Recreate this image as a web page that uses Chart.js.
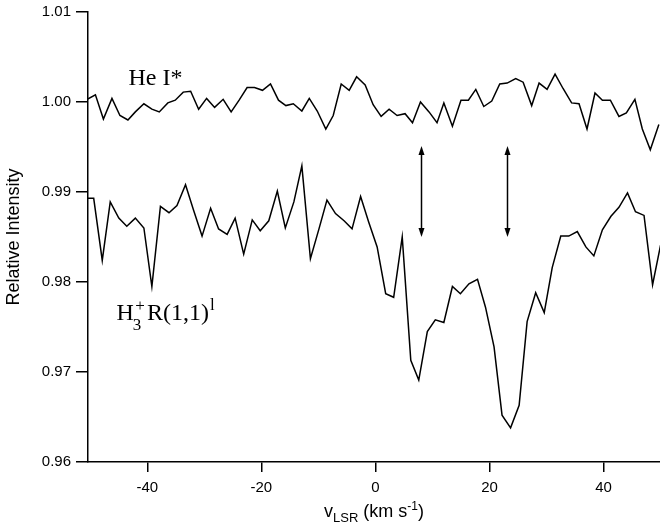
<!DOCTYPE html>
<html><head><meta charset="utf-8">
<script src="https://cdn.jsdelivr.net/npm/chart.js@4/dist/chart.umd.min.js"></script>
<style>html,body{margin:0;padding:0;background:#fff}canvas{display:block}</style>
</head><body>
<canvas id="c" width="660" height="526"></canvas>
<script>
// He I* spectrum (velocity km/s, relative intensity)
const heVelocity = [-50.5,-49.1,-47.7,-46.2,-44.8,-43.4,-42.1,-40.6,-39.2,-37.9,-36.4,-35.1,-33.7,-32.4,-31.0,-29.6,-28.2,-26.7,-25.3,-23.9,-22.5,-21.2,-19.8,-18.4,-17.0,-15.7,-14.4,-12.9,-11.6,-10.2,-8.7,-7.4,-6.0,-4.6,-3.3,-1.8,-0.4,1.0,2.4,3.8,5.2,6.5,7.9,9.4,10.8,12.0,13.5,15.0,16.3,17.6,19.0,20.4,21.8,23.1,24.6,25.9,27.4,28.7,30.1,31.5,32.9,34.4,35.7,37.1,38.5,39.8,41.2,42.7,44.0,45.5,46.8,48.2,49.7];
const heIntensity = [1.0003,1.0008,0.9981,1.0004,0.9985,0.9980,0.9989,0.9998,0.9992,0.9989,0.9999,1.0002,1.0011,1.0012,0.9992,1.0004,0.9994,1.0003,0.9989,1.0002,1.0016,1.0016,1.0013,1.0020,1.0002,0.9996,0.9998,0.9990,1.0004,0.9990,0.9970,0.9985,1.0020,1.0013,1.0028,1.0019,0.9997,0.9984,0.9992,0.9985,0.9987,0.9977,1.0000,0.9989,0.9977,0.9999,0.9973,1.0002,1.0002,1.0014,0.9995,1.0001,1.0020,1.0021,1.0026,1.0022,0.9996,1.0021,1.0014,1.0031,1.0015,0.9999,0.9998,0.9970,1.0010,1.0002,1.0002,0.9984,0.9988,1.0003,0.9970,0.9947,0.9975];
// H3+ R(1,1)^l spectrum
const h3Velocity = [-50.8,-49.4,-47.9,-46.5,-45.0,-43.6,-42.1,-40.6,-39.2,-37.7,-36.2,-34.8,-33.3,-31.9,-30.4,-28.9,-27.5,-26.0,-24.6,-23.1,-21.6,-20.2,-18.7,-17.2,-15.8,-14.3,-12.9,-11.4,-9.9,-8.5,-7.0,-5.5,-4.1,-2.6,-1.2,0.3,1.8,3.2,4.7,6.2,7.6,9.1,10.5,12.0,13.5,14.9,16.4,17.9,19.3,20.8,22.2,23.7,25.2,26.6,28.1,29.6,31.0,32.5,33.9,35.4,36.9,38.3,39.8,41.3,42.7,44.2,45.6,47.1,48.6,50.0];
const h3Intensity = [0.9893,0.9893,0.9824,0.9889,0.9871,0.9862,0.9871,0.9860,0.9795,0.9884,0.9877,0.9885,0.9908,0.9880,0.9851,0.9882,0.9859,0.9853,0.9871,0.9831,0.9869,0.9857,0.9868,0.9901,0.9860,0.9889,0.9929,0.9826,0.9859,0.9891,0.9876,0.9868,0.9859,0.9895,0.9867,0.9839,0.9787,0.9783,0.9850,0.9713,0.9691,0.9745,0.9758,0.9755,0.9795,0.9787,0.9798,0.9803,0.9772,0.9728,0.9652,0.9638,0.9663,0.9756,0.9788,0.9766,0.9816,0.9851,0.9851,0.9856,0.9839,0.9829,0.9858,0.9873,0.9883,0.9899,0.9878,0.9874,0.9797,0.9841];
// axis ticks
const xTickValues = [-40,-20,0,20,40];
const yTickValues = [0.96,0.97,0.98,0.99,1.00,1.01];
// marker arrows (velocity) and their intensity span
const arrowVelocities = [8.0, 23.0];
const arrowSpan = [0.9951, 0.9850];

// annotation placement (style/position config, not data)
const labelConfig = {
  he: {v:-43.3, i:1.0019},
  h3: {v:-45.4, i:0.97575}
};

const toPoints = (xs, ys) => xs.map((v, k) => ({x: v, y: ys[k]}));
const SANS = '"Liberation Sans", Arial, sans-serif';
const SERIF = '"Liberation Serif", "Times New Roman", serif';

const annotations = {
  id: 'annotations',
  afterDraw(chart) {
    const {ctx, scales: {x, y}, chartArea} = chart;
    ctx.save();
    ctx.strokeStyle = '#000';
    ctx.fillStyle = '#000';
    ctx.lineWidth = 1.5;
    // double-headed arrows
    arrowVelocities.forEach(v => {
      const px = Math.round(x.getPixelForValue(v)) + 0.5;
      const t = y.getPixelForValue(arrowSpan[0]);
      const b = y.getPixelForValue(arrowSpan[1]);
      ctx.beginPath(); ctx.moveTo(px, t + 5); ctx.lineTo(px, b - 5); ctx.stroke();
      ctx.beginPath(); ctx.moveTo(px, t); ctx.lineTo(px - 3, t + 9); ctx.lineTo(px + 3, t + 9); ctx.closePath(); ctx.fill();
      ctx.beginPath(); ctx.moveTo(px, b); ctx.lineTo(px - 3, b - 9); ctx.lineTo(px + 3, b - 9); ctx.closePath(); ctx.fill();
    });
    ctx.textAlign = 'left';
    ctx.textBaseline = 'alphabetic';
    // He I* label
    ctx.font = '24px ' + SERIF;
    ctx.fillText('He I*', x.getPixelForValue(labelConfig.he.v), y.getPixelForValue(labelConfig.he.i));
    // H3+ R(1,1)^l label
    let hx = x.getPixelForValue(labelConfig.h3.v);
    const hy = y.getPixelForValue(labelConfig.h3.i);
    ctx.font = '24px ' + SERIF;
    ctx.fillText('H', hx, hy);
    const wH = ctx.measureText('H').width;
    ctx.font = '17px ' + SERIF;
    const x3 = hx + wH - 1;
    ctx.fillText('3', x3, hy + 10);
    const xp = x3 + 2.5;
    ctx.fillText('+', xp, hy - 9);
    const wp = ctx.measureText('+').width;
    let rx = xp + wp + 2;
    ctx.font = '24px ' + SERIF;
    ctx.fillText('R(1,1)', rx, hy);
    rx += ctx.measureText('R(1,1)').width + 1;
    ctx.font = '17px ' + SERIF;
    ctx.fillText('l', rx, hy - 10);

    // x-axis title: v_LSR (km s^-1)
    const parts = [
      {t: 'v', f: '18px ' + SANS, dy: 0},
      {t: 'LSR', f: '13px ' + SANS, dy: 5},
      {t: ' (km s', f: '18px ' + SANS, dy: 0},
      {t: '-1', f: '12px ' + SANS, dy: -7},
      {t: ')', f: '18px ' + SANS, dy: 0}
    ];
    let total = 0;
    parts.forEach(p => { ctx.font = p.f; p.w = ctx.measureText(p.t).width; total += p.w; });
    let tx = (chartArea.left + chartArea.right) / 2 - total / 2;
    const ty = 516.5;
    parts.forEach(p => { ctx.font = p.f; ctx.fillText(p.t, tx, ty + p.dy); tx += p.w; });
    ctx.restore();
  }
};

new Chart(document.getElementById('c'), {
  type: 'line',
  data: {
    datasets: [
      {label: 'He I*', data: toPoints(heVelocity, heIntensity), borderColor: '#000', borderWidth: 1.5, pointRadius: 0, tension: 0, fill: false},
      {label: 'H3+ R(1,1)l', data: toPoints(h3Velocity, h3Intensity), borderColor: '#000', borderWidth: 1.5, pointRadius: 0, tension: 0, fill: false}
    ]
  },
  options: {
    responsive: false,
    animation: false,
    devicePixelRatio: 1,
    layout: {padding: {top: 12, right: 0, left: 0, bottom: 0}},
    plugins: {legend: {display: false}, tooltip: {enabled: false}},
    scales: {
      x: {
        type: 'linear', min: -50.4, max: 49.9,
        afterBuildTicks: s => { s.ticks = xTickValues.map(v => ({value: v})); },
        afterFit: s => { s.height = 64; s.paddingLeft = 0; s.paddingRight = 0; },
        border: {display: true, color: '#000', width: 1.5},
        grid: {display: true, drawOnChartArea: false, drawTicks: true, tickLength: 10, color: '#000', lineWidth: 1.5},
        ticks: {color: '#000', font: {family: SANS, size: 15}, padding: 7, maxRotation: 0, autoSkip: false, callback: v => String(v)}
      },
      y: {
        type: 'linear', min: 0.96, max: 1.01,
        afterBuildTicks: s => { s.ticks = yTickValues.map(v => ({value: v})); },
        afterFit: s => { s.width = 88; s.paddingTop = 0; s.paddingBottom = 0; },
        border: {display: true, color: '#000', width: 1.5},
        grid: {display: true, drawOnChartArea: false, drawTicks: true, tickLength: 12, color: '#000', lineWidth: 1.5},
        ticks: {color: '#000', font: {family: SANS, size: 15}, padding: 5, callback: v => Number(v).toFixed(2)},
        title: {display: true, text: 'Relative Intensity', color: '#000', font: {family: SANS, size: 18}, padding: {top: 3, bottom: 0}}
      }
    }
  },
  plugins: [annotations]
});
</script>
</body></html>
